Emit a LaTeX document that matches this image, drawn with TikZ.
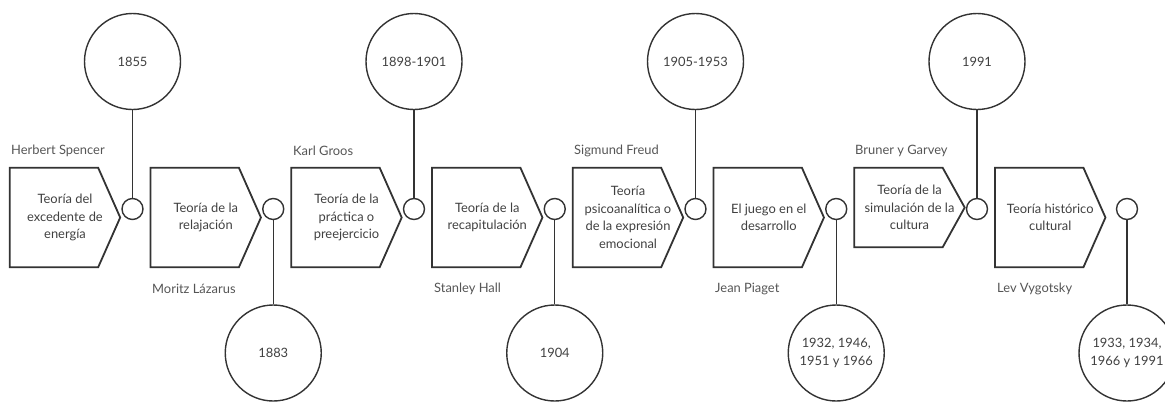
\documentclass[tikz,border=0pt]{standalone}
\usepackage{fontspec}
\setmainfont{Lato}
\usetikzlibrary{positioning}
\definecolor{ink}{HTML}{333333}
\definecolor{txt}{HTML}{404040}
\definecolor{soft}{HTML}{555555}

\begin{document}
\begin{tikzpicture}[x=1pt,y=-1pt,node distance=140.75pt,on grid,
    font=\fontsize{12.9}{17.5}\selectfont,
    theory/.style={text=txt,align=center,minimum width=110pt,minimum height=99pt,
      inner sep=0pt,
      append after command={\pgfextra{\draw[draw=ink,line width=1.8pt,line join=miter]
        (\tikzlastnode.north west) -- ([xshift=-22pt]\tikzlastnode.north east)
        -- (\tikzlastnode.east) -- ([xshift=-22pt]\tikzlastnode.south east)
        -- (\tikzlastnode.south west) -- cycle;}}},
    knot/.style={circle,draw=ink,line width=1.4pt,minimum size=21pt,inner sep=0pt},
    year/.style={circle,draw=ink,line width=1.4pt,minimum size=96pt,
      inner sep=0pt,align=center,text=txt},
    who/.style={anchor=west,text=soft,inner sep=0pt},
    link/.style={draw=ink,line width=1.4pt}]
  \useasboundingbox (0,0) rectangle (1165,402);
  \clip (0,0) rectangle (1165,402);

  % points on the time line
  \node[knot] (k1) at (132.5,209) {};
  \node[knot] (k2) [right=of k1] {};
  \node[knot] (k3) [right=of k2] {};
  \node[knot] (k4) [right=of k3] {};
  \node[knot] (k5) [right=of k4] {};
  \node[knot] (k6) [right=of k5] {};
  \node[knot] (k7) [right=of k6] {};
  \node[knot] (k8) [right=150pt of k7] {};

  % theories
  \node[theory] (p1) at (65,217.5) {Teoría del\\excedente de\\energía};
  \node[theory] (p2) [right=of p1] {Teoría de la\\relajación};
  \node[theory] (p3) [right=of p2] {Teoría de la\\práctica o\\preejercicio};
  \node[theory] (p4) [right=of p3] {Teoría de la\\recapitulación};
  \node[theory] (p5) [right=of p4] {Teoría\\psicoanalítica o\\de la expresión\\emocional};
  \node[theory] (p6) [right=of p5] {El juego en el\\desarrollo};
  \node[theory,minimum height=79pt] (p7) [right=of p6,yshift=10pt]
    {Teoría de la\\simulación de la\\cultura};
  \node[theory] (p8) [right=of p7,yshift=-10pt] {Teoría histórico\\cultural};

  % years
  \node[year] (y1) [above=147.5pt of k1] {1855};
  \node[year] (y2) [below=144pt of k2] {1883};
  \node[year] (y3) [above=147.5pt of k3] {1898-1901};
  \node[year] (y4) [below=144pt of k4] {1904};
  \node[year] (y5) [above=147.5pt of k5] {1905-1953};
  \node[year] (y6) [below=144pt of k6] {1932, 1946,\\1951 y 1966};
  \node[year] (y7) [above=147.5pt of k7] {1991};
  \node[year] (y8) [below=144pt of k8] {1933, 1934,\\1966 y 1991};

  % authors
  \node[who] (a1) at (11,151) {Herbert Spencer};
  \node[who] (a2) at (152,289) {Moritz Lázarus};
  \node[who] (a3) at (293,151) {Karl Groos};
  \node[who] (a4) at (434,289) {Stanley Hall};
  \node[who] (a5) at (574,151) {Sigmund Freud};
  \node[who] (a6) at (715,289) {Jean Piaget};
  \node[who] (a7) at (855,151) {Bruner y Garvey};
  \node[who] (a8) at (997,289) {Lev Vygotsky};

  \draw[link] (y1) -- (k1);
  \draw[link] (k2) -- (y2);
  \draw[link] (y3) -- (k3);
  \draw[link] (k4) -- (y4);
  \draw[link] (y5) -- (k5);
  \draw[link] (k6) -- (y6);
  \draw[link] (y7) -- (k7);
  \draw[link] (k8) -- (y8);
\end{tikzpicture}
\end{document}
